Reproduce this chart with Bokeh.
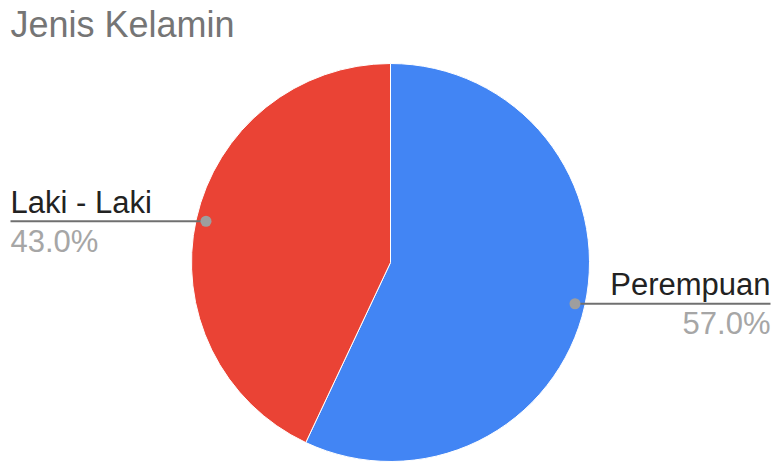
import math
from bokeh.plotting import figure
from bokeh.models import Label
from bokeh.core.properties import value
from bokeh.embed import file_html
from bokeh.resources import INLINE

title = "Jenis Kelamin"
categories = ["Perempuan", "Laki - Laki"]
shares = [57.0, 43.0]
colors = ["#4285F4", "#EA4335"]

W, H = 773, 462
cx, cy, R = 390, H - 262, 199

p = figure(width=W, height=H, x_range=(0, W), y_range=(0, H),
           output_backend="svg", toolbar_location=None, min_border=0,
           outline_line_color=None, background_fill_color="white")
p.axis.visible = False
p.grid.visible = False

total = sum(shares)
# clockwise from 12 o'clock
start = math.pi / 2
starts, ends, mids = [], [], []
ang = start
for s in shares:
    sweep = s / total * 2 * math.pi
    a_end = ang
    a_start = ang - sweep
    starts.append(a_start)
    ends.append(a_end)
    mids.append((a_start + a_end) / 2)
    ang = a_start

p.wedge(x=[cx] * len(shares), y=[cy] * len(shares), radius=R,
        start_angle=starts, end_angle=ends, fill_color=colors,
        line_color="white", line_width=1)

font = value("Liberation Sans")
for cat, s, m in zip(categories, shares, mids):
    dx = cx + 0.95 * R * math.cos(m)
    dy = cy + 0.95 * R * math.sin(m)
    right = math.cos(m) > 0
    x_end = W - 3 if right else 10
    p.line([dx, x_end], [dy, dy], line_color="#707070", line_width=2)
    p.scatter([dx], [dy], size=11, fill_color="#9E9E9E", line_color=None)
    align = "right" if right else "left"
    p.text([x_end], [dy + 19], text=[cat], text_font=font, text_font_size="31px",
           text_color="#222222", text_align=align, text_baseline="alphabetic")
    p.text([x_end], [dy - 20], text=[f"{s:.1f}%"], text_font=font, text_font_size="31px",
           text_color="#A6A6A6", text_align=align, text_baseline="alphabetic")

p.add_layout(Label(x=10, y=H - 24, x_units="screen", y_units="screen", text=title,
                   text_font="Liberation Sans", text_font_size="36px", text_color="#757575",
                   text_baseline="alphabetic"))

open("out.html", "w").write(file_html(p, INLINE))
